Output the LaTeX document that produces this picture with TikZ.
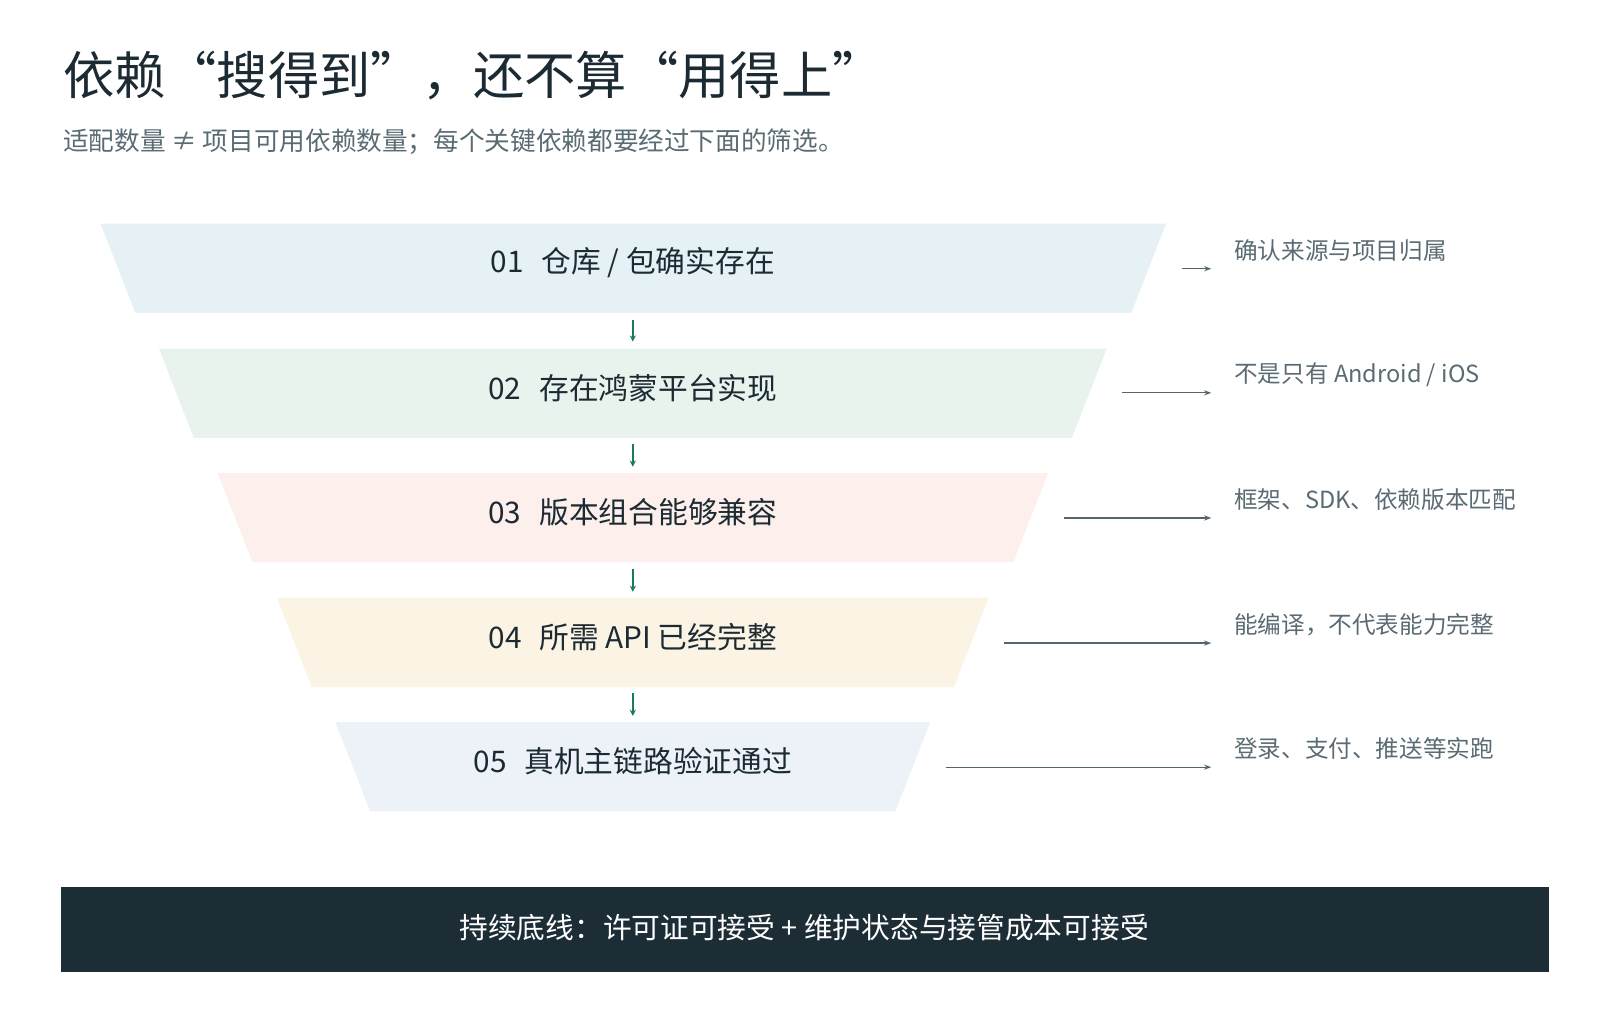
\documentclass[tikz,border=0pt]{standalone}
\usepackage{fontspec}
\setmainfont{Noto Sans CJK SC}
\usetikzlibrary{arrows.meta}
\definecolor{ink}{HTML}{1C2B33}
\definecolor{sub}{HTML}{5A6B73}
\definecolor{arr}{HTML}{55656D}
\definecolor{grn}{HTML}{1A7A5A}
\definecolor{barc}{HTML}{1C2D36}
\definecolor{c1}{HTML}{E6F1F5}
\definecolor{c2}{HTML}{E8F3EE}
\definecolor{c3}{HTML}{FDF0EC}
\definecolor{c4}{HTML}{FBF3E3}
\definecolor{c5}{HTML}{EDF1F8}
\begin{document}
\begin{tikzpicture}[x=1pt,y=-1pt,
  lbl/.style={font=\fontsize{29}{32}\selectfont,text=ink},
  side/.style={font=\fontsize{23}{26}\selectfont,text=sub,anchor=west},
  rarr/.style={draw=arr,line width=1.3pt,-{Stealth[length=7pt,width=5pt]}},
  darr/.style={draw=grn,line width=2pt,-{Stealth[length=6pt,width=6pt]}}]
\useasboundingbox (0,0) rectangle (1560,990.6);
\node[anchor=base west,font=\fontsize{50}{56}\selectfont,text=ink] (title) at (58,92) {依赖“搜得到”，还不算“用得上”};
\node[anchor=west,font=\fontsize{25}{28}\selectfont,text=sub] (subt) at (58,138) {适配数量 ≠ 项目可用依赖数量；每个关键依赖都要经过下面的筛选。};
% trapezoids
\fill[c1] (98,218) -- (1137,218) -- (1103,305) -- (132,305) -- cycle;
\fill[c2] (155,340) -- (1079,340) -- (1045,427) -- (189,427) -- cycle;
\fill[c3] (212,461) -- (1022,461) -- (988,548) -- (246,548) -- cycle;
\fill[c4] (270,583) -- (964,583) -- (930,670) -- (304,670) -- cycle;
\fill[c5] (327,704) -- (907,704) -- (873,791) -- (361,791) -- cycle;
\node[lbl] (s1) at (617,256) {01\hspace{0.6em}仓库 / 包确实存在};
\node[lbl] (s2) at (617,378) {02\hspace{0.6em}存在鸿蒙平台实现};
\node[lbl] (s3) at (617,499) {03\hspace{0.6em}版本组合能够兼容};
\node[lbl] (s4) at (617,621) {04\hspace{0.6em}所需 API 已经完整};
\node[lbl] (s5) at (617,742) {05\hspace{0.6em}真机主链路验证通过};
\coordinate (d1a) at (617,312); \coordinate (d1b) at (617,333);
\coordinate (d2a) at (617,433); \coordinate (d2b) at (617,455);
\coordinate (d3a) at (617,555); \coordinate (d3b) at (617,577);
\coordinate (d4a) at (617,676); \coordinate (d4b) at (617,698);
\draw[darr] (d1a) -- (d1b);
\draw[darr] (d2a) -- (d2b);
\draw[darr] (d3a) -- (d3b);
\draw[darr] (d4a) -- (d4b);
% side arrows
\coordinate (r1a) at (1152,262); \coordinate (r1b) at (1181,262);
\coordinate (r2a) at (1094,383); \coordinate (r2b) at (1181,383);
\coordinate (r3a) at (1037,505); \coordinate (r3b) at (1181,505);
\coordinate (r4a) at (979,627); \coordinate (r4b) at (1181,627);
\coordinate (r5a) at (922,748); \coordinate (r5b) at (1181,748);
\draw[rarr] (r1a) -- (r1b);
\draw[rarr] (r2a) -- (r2b);
\draw[rarr] (r3a) -- (r3b);
\draw[rarr] (r4a) -- (r4b);
\draw[rarr] (r5a) -- (r5b);
\node[side] (t1) at (1200,244) {确认来源与项目归属};
\node[side] (t2) at (1200,365) {不是只有 Android / iOS};
\node[side] (t3) at (1200,487) {框架、SDK、依赖版本匹配};
\node[side] (t4) at (1200,609) {能编译，不代表能力完整};
\node[side] (t5) at (1200,730) {登录、支付、推送等实跑};
% bottom bar
\fill[barc] (59,865) rectangle (1510,948);
\node[font=\fontsize{28}{32}\selectfont,text=white] (bar) at (784,904) {持续底线：许可证可接受 + 维护状态与接管成本可接受};
\end{tikzpicture}
\end{document}
